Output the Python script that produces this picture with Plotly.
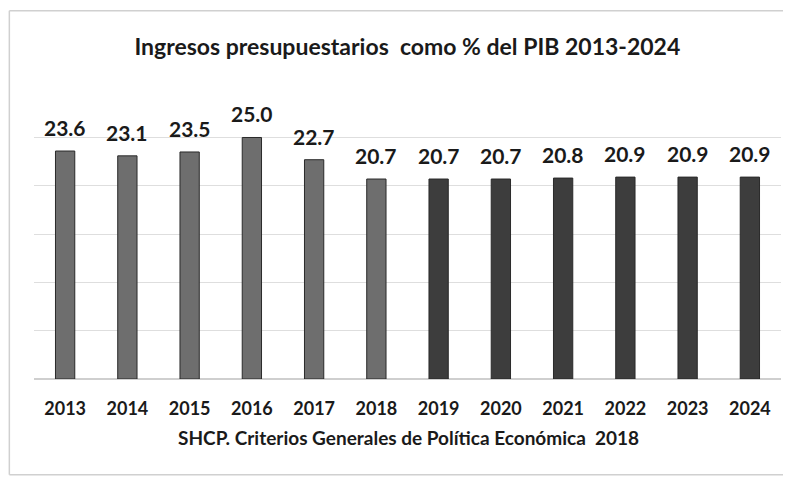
import plotly.graph_objects as go

# datos: ingresos presupuestarios como % del PIB
anios = ["2013", "2014", "2015", "2016", "2017", "2018",
         "2019", "2020", "2021", "2022", "2023", "2024"]
valores = [23.6, 23.1, 23.5, 25.0, 22.7, 20.7,
           20.7, 20.7, 20.8, 20.9, 20.9, 20.9]
etiquetas = ["23.6", "23.1", "23.5", "25.0", "22.7", "20.7",
             "20.7", "20.7", "20.8", "20.9", "20.9", "20.9"]
colores = ["#6e6e6e"] * 6 + ["#3d3d3d"] * 6

titulo = "Ingresos presupuestarios  como % del PIB 2013-2024"
fuente = "SHCP. Criterios Generales de Política Económica  2018"

FONT = "Lato"

fig = go.Figure()
fig.add_trace(go.Bar(
    x=anios, y=valores,
    marker=dict(color=colores, line=dict(color="#2a2a2a", width=1)),
    hoverinfo="skip",
))

# etiquetas de datos sobre cada barra (x como indice de categoria)
notas = []
for i, (v, t) in enumerate(zip(valores, etiquetas)):
    notas.append(dict(x=i, y=v, text=t, showarrow=False,
                      yanchor="bottom", yshift=9,
                      font=dict(family=FONT, size=21, color="#1a1a1a", weight="bold")))
notas.append(dict(text=fuente, xref="paper", yref="paper",
                  x=0.502, y=-0.2, showarrow=False, yanchor="middle",
                  font=dict(family=FONT, size=19, color="#1a1a1a", weight="bold")))

# marco del recuadro (arriba, izquierda y abajo)
borde = dict(color="#d0d0d0", width=1.5)
marco = [
    dict(type="line", xref="paper", yref="paper", x0=-0.033, x1=1.1, y0=1.27, y1=1.27, line=borde),
    dict(type="line", xref="paper", yref="paper", x0=-0.033, x1=-0.033, y0=-0.33, y1=1.27, line=borde),
    dict(type="line", xref="paper", yref="paper", x0=-0.033, x1=1.1, y0=-0.33, y1=-0.33, line=borde),
]

# la pagina deja 8 px de margen, por eso la figura es algo menor
fig.update_layout(
    width=783, height=470,
    margin=dict(l=26, r=10, t=81, b=99),
    paper_bgcolor="white", plot_bgcolor="white",
    bargap=0.69, showlegend=False,
    title=dict(text=titulo, x=0.51, xanchor="center",
               y=0.917, yanchor="middle",
               font=dict(family=FONT, size=23, color="#1a1a1a", weight="bold")),
    annotations=notas,
    shapes=marco,
)
fig.update_xaxes(type="category", showgrid=False, showline=False,
                 ticks="outside", ticklen=13, tickcolor="rgba(0,0,0,0)",
                 tickfont=dict(family=FONT, size=18, color="#1a1a1a", weight="bold"))
fig.update_yaxes(range=[0, 30.02], dtick=5, showticklabels=False,
                 gridcolor="#dedede", zeroline=True, zerolinecolor="#cfcfcf")

fig.write_html("out.html")
